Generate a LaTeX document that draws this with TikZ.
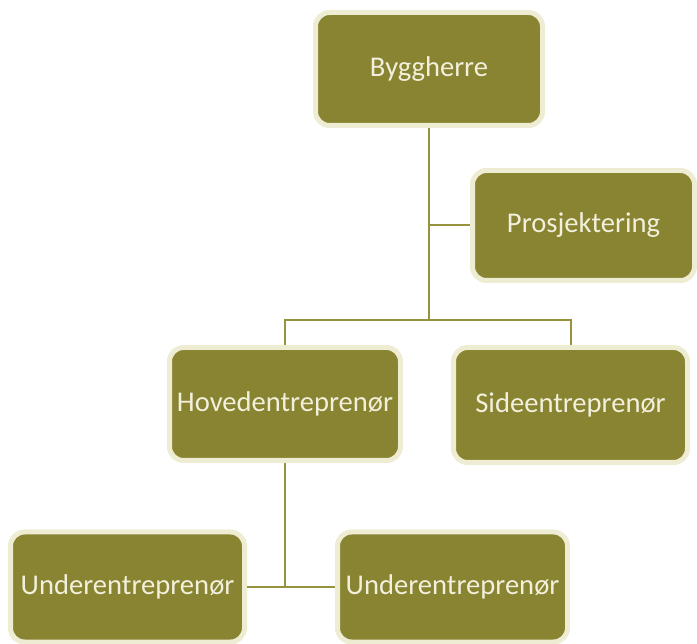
\documentclass[tikz,border=0pt]{standalone}
\usepackage{fontspec}
\setmainfont{Carlito}
\definecolor{olivefill}{RGB}{136,132,49}
\definecolor{creamedge}{RGB}{238,236,210}
\definecolor{creamtext}{RGB}{242,240,220}
\definecolor{linkc}{RGB}{150,146,62}
\begin{document}
\begin{tikzpicture}[x=1pt,y=-1pt,
  orgbox/.style={rectangle, rounded corners=14pt, fill=olivefill, draw=creamedge,
    line width=5pt, inner sep=1pt, text=creamtext,
    font=\fontsize{28.6}{34}\selectfont},
  link/.style={draw=linkc, line width=2pt}]
\useasboundingbox (0,0) rectangle (697,644);
\node[orgbox, minimum width=227pt, minimum height=113pt] (bygg) at (429,69) {Byggherre};
\node[orgbox, minimum width=222pt, minimum height=110pt] (pros) at (583.5,225.5) {Prosjektering};
\node[orgbox, minimum width=231pt, minimum height=113pt] (hoved) at (285,404) {Hovedentreprenør};
\node[orgbox, minimum width=234pt, minimum height=115pt] (side) at (570.5,405) {Sideentreprenør};
\node[orgbox, minimum width=234pt, minimum height=110pt] (u1) at (127.5,587) {Underentreprenør};
\node[orgbox, minimum width=230pt, minimum height=110pt] (u2) at (452.5,587) {Underentreprenør};
\coordinate (j0) at (429,225.5);
\coordinate (j1) at (429,320);
\coordinate (j2) at (285,587);
\begin{scope}[on background layer/.try]
\end{scope}
\path[link] (bygg.south) -- (j1);
\path[link] (j0) -- (pros.west);
\path[link] (j1) -| (hoved.north);
\path[link] (j1) -| (side.north);
\path[link] (hoved.south) -- (j2);
\path[link] (u1.east) -- (u2.west);
\end{tikzpicture}
\end{document}
